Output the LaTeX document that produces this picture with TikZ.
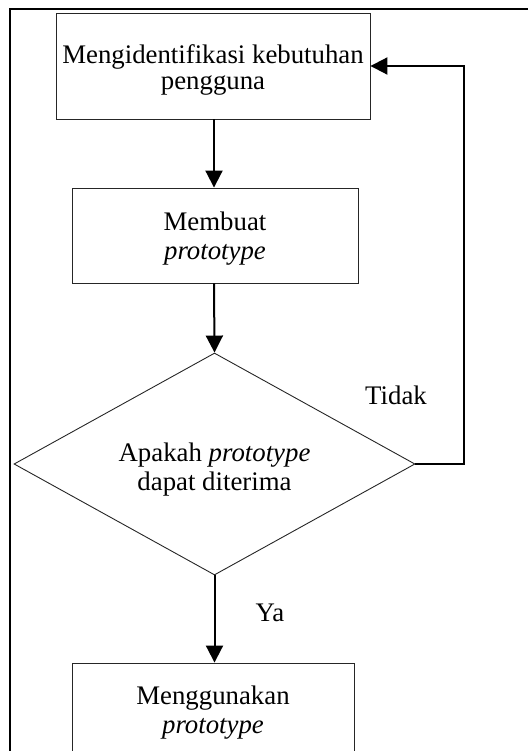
\documentclass[tikz,border=0pt]{standalone}
\usepackage{fontspec}
\setmainfont{Liberation Serif}
\usetikzlibrary{arrows.meta,shapes.geometric}
\newcommand{\dropped}[2]{\raisebox{-#1}[\height][\depth]{\begin{tabular}{@{}c@{}}#2\end{tabular}}}
\begin{document}
\begin{tikzpicture}[x=1pt,y=-1pt,
  txt/.style={font=\fontsize{26.8}{29}\selectfont},
  box/.style={txt, draw=black!85, line width=0.9pt, rectangle, align=center, inner sep=0pt},
  decision/.style={txt, draw=black!85, line width=0.9pt, diamond, aspect=1.8, align=center, inner sep=0pt},
  flow/.style={line width=2pt, -{Triangle[length=17pt,width=17pt]}},
  lbl/.style={txt, inner sep=0pt}]
\useasboundingbox (0,0) rectangle (527,751);
\draw[line width=2.2pt] (10,780) -- (10,9) -- (560,9);
\node[box, minimum width=314pt, minimum height=106pt] (ident) at (213,66) {\dropped{5pt}{Mengidentifikasi kebutuhan\\[-3pt]pengguna}};
\node[box, minimum width=286pt, minimum height=95pt] (proto) at (215,235.5) {\dropped{4pt}{Membuat\\\textit{prototype}}};
\node[decision, minimum width=401pt, minimum height=222pt] (dec) at (214.5,464) {\dropped{6pt}{Apakah \textit{prototype}\\dapat diterima}};
\node[box, minimum width=282pt, minimum height=96pt] (use) at (213,711) {\dropped{2pt}{Menggunakan\\\textit{prototype}}};
\coordinate (fb1) at (464,464);
\coordinate (fb2) at (464,66);
\draw[flow] (ident.south -| 214,0) -- (proto.north -| 214,0);
\draw[flow] (proto.south -| 214,0) -- (dec.north);
\draw[flow] (dec.south) -- (use.north -| dec.south);
\draw[flow] (dec.east) -- (fb1) -- (fb2) -- (fb2 -| ident.east);
\node[lbl] (tidak) at (396,395) {Tidak};
\node[lbl] (ya) at (270,613) {Ya};
\end{tikzpicture}
\end{document}
